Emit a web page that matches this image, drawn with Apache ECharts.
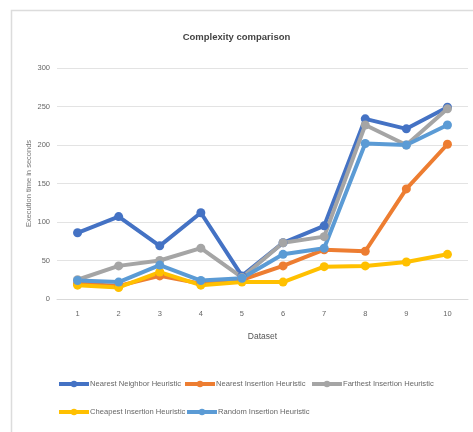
<!DOCTYPE html>
<html><head><meta charset="utf-8">
<script src="https://cdn.jsdelivr.net/npm/echarts@6/dist/echarts.min.js"></script>
<style>html,body{margin:0;padding:0;background:#fff}#c{width:473px;height:432px}</style>
</head><body><div id="c"></div>
<script>
const categories = ['1','2','3','4','5','6','7','8','9','10'];
const nearestNeighbor = [86, 107, 69, 112, 30, 73, 95, 234, 221, 249];
const nearestInsertion = [20, 17, 30, 20, 25, 43, 64, 62, 143, 201];
const farthestInsertion = [25, 43, 50, 66, 28, 73, 81, 226, 200, 247];
const cheapestInsertion = [18, 15, 35, 18, 22, 22, 42, 43, 48, 58];
const randomInsertion = [24, 22, 44, 24, 27, 58, 66, 202, 200, 226];
const seriesNames = ['Nearest Neighbor Heuristic','Nearest Insertion Heuristic','Farthest Insertion Heuristic','Cheapest Insertion Heuristic','Random Insertion Heuristic'];
const colors = ['#4472C4','#ED7D31','#A5A5A5','#FFC000','#5B9BD5'];
const allData = [nearestNeighbor, nearestInsertion, farthestInsertion, cheapestInsertion, randomInsertion];
const font = '"Liberation Sans",Arial,sans-serif';
const legendPos = [[52,375],[178,375],[305,375],[52,403],[180,403]];
const chart = echarts.init(document.getElementById('c'));
chart.setOption({
  animation: false,
  color: colors,
  graphic: [
    {type: 'polyline', silent: true, shape: {points: [[11.5, 432], [11.5, 10.5], [473, 10.5]]}, style: {stroke: '#dcdcdc', lineWidth: 1.5, fill: null}}
  ],
  title: {text: 'Complexity comparison', left: 'center', top: 27, textStyle: {fontFamily: font, fontSize: 9.5, fontWeight: 'bold', color: '#444'}},
  grid: {left: 57, right: 5, top: 68, bottom: 133},
  legend: seriesNames.map((n, i) => ({data: [n], left: legendPos[i][0], top: legendPos[i][1], itemGap: 0, itemWidth: 30, itemHeight: 8,
    lineStyle: {width: 4},
    textStyle: {fontFamily: font, fontSize: 7.6, color: '#666', padding: [0,0,0,-4]}})),
  xAxis: {type: 'category', data: categories, name: 'Dataset', nameLocation: 'middle', nameGap: 33,
    nameTextStyle: {fontFamily: font, fontSize: 8.5, color: '#555'},
    axisLine: {lineStyle: {color: '#d9d9d9'}}, axisTick: {show: false},
    axisLabel: {fontFamily: font, fontSize: 7.5, color: '#666', margin: 11}},
  yAxis: {type: 'value', min: 0, max: 300, interval: 50, name: 'Execution time in seconds', nameLocation: 'middle', nameGap: 24, nameMoveOverlap: false,
    nameTextStyle: {fontFamily: font, fontSize: 7.5, color: '#777'},
    axisLabel: {fontFamily: font, fontSize: 7.5, color: '#666', margin: 7},
    splitLine: {lineStyle: {color: '#e3e3e3'}}},
  series: allData.map((d, i) => ({
    name: seriesNames[i], type: 'line', data: d, symbol: 'circle', symbolSize: 9,
    lineStyle: {width: 4}, itemStyle: {color: colors[i]}
  }))
});
</script></body></html>
